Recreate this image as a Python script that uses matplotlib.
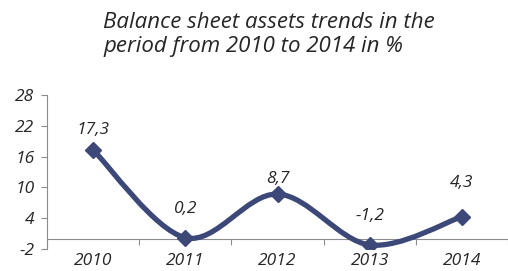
import numpy as np
import matplotlib.pyplot as plt
from matplotlib.path import Path
from matplotlib.patches import PathPatch

years = ["2010", "2011", "2012", "2013", "2014"]
values = [17.3, 0.2, 8.7, -1.2, 4.3]
labels = ["17,3", "0,2", "8,7", "-1,2", "4,3"]
yticks = [-2, 4, 10, 16, 22, 28]

line_color = "#3b4878"
text_color = "#262626"
label_dy = [14, 21, 11, 21, 24]  # label offsets in points


def smooth_path(xs, ys):
    # Bezier smoothing like a spreadsheet "smoothed line"
    pts = np.column_stack([xs, ys])
    n = len(pts)
    verts = [pts[0]]
    codes = [Path.MOVETO]
    for i in range(n - 1):
        p0 = pts[i - 1] if i > 0 else pts[i]
        p1 = pts[i]
        p2 = pts[i + 1]
        p3 = pts[i + 2] if i + 2 < n else pts[i + 1]
        c1 = p1 + (p2 - p0) / 6
        c2 = p2 - (p3 - p1) / 6
        verts += [c1, c2, p2]
        codes += [Path.CURVE4] * 3
    return Path(verts, codes)


plt.rcParams['font.family'] = ['Open Sans', 'DejaVu Sans']

fig = plt.figure(figsize=(5.08, 2.71), dpi=100)
ax = fig.add_axes([47 / 508, 1 - 249 / 271, 461 / 508, (249 - 95) / 271])

x = np.arange(len(years))
patch = PathPatch(smooth_path(x, values), fc="none", ec=line_color, lw=3.8,
                  capstyle="round", zorder=3)
ax.add_patch(patch)
ax.plot(x, values, ls="none", marker="D", ms=8.5, color=line_color, zorder=4)

for xi, v, lab, dy in zip(x, values, labels, label_dy):
    ax.annotate(lab, (xi, v), xytext=(0, dy), textcoords="offset points",
                ha="center", va="center", fontsize=12.5, style="italic",
                color=text_color)

ax.set_xlim(-0.5, 4.44)
ax.set_ylim(-2, 28)

ax.set_yticks(yticks)
ax.set_yticklabels([str(t) for t in yticks], fontsize=12.5, style="italic",
                   color=text_color)
ax.tick_params(axis="y", direction="out", length=4, width=0.8,
               color="#8c8c8c", pad=5)

# category axis crossing at zero
ax.spines["bottom"].set_position(("data", 0))
ax.spines["bottom"].set_color("#8c8c8c")
ax.spines["left"].set_color("#8c8c8c")
ax.spines["top"].set_visible(False)
ax.spines["right"].set_visible(False)
ax.set_xticks(x)
ax.set_xticklabels(years, fontsize=12.5, style="italic", color=text_color)
ax.set_xticks(np.arange(len(years) + 1) - 0.5, minor=True)
ax.tick_params(axis="x", which="major", length=0, pad=10.5)
ax.tick_params(axis="x", which="minor", direction="out", length=4,
               width=0.8, color="#8c8c8c")

fig.text(103 / 508, 1 - 12 / 271,
         "Balance sheet assets trends in the\nperiod from 2010 to 2014 in %",
         ha="left", va="top", fontsize=16, style="italic", color=text_color,
         linespacing=1.2)

fig.savefig("out.png", dpi=100)
